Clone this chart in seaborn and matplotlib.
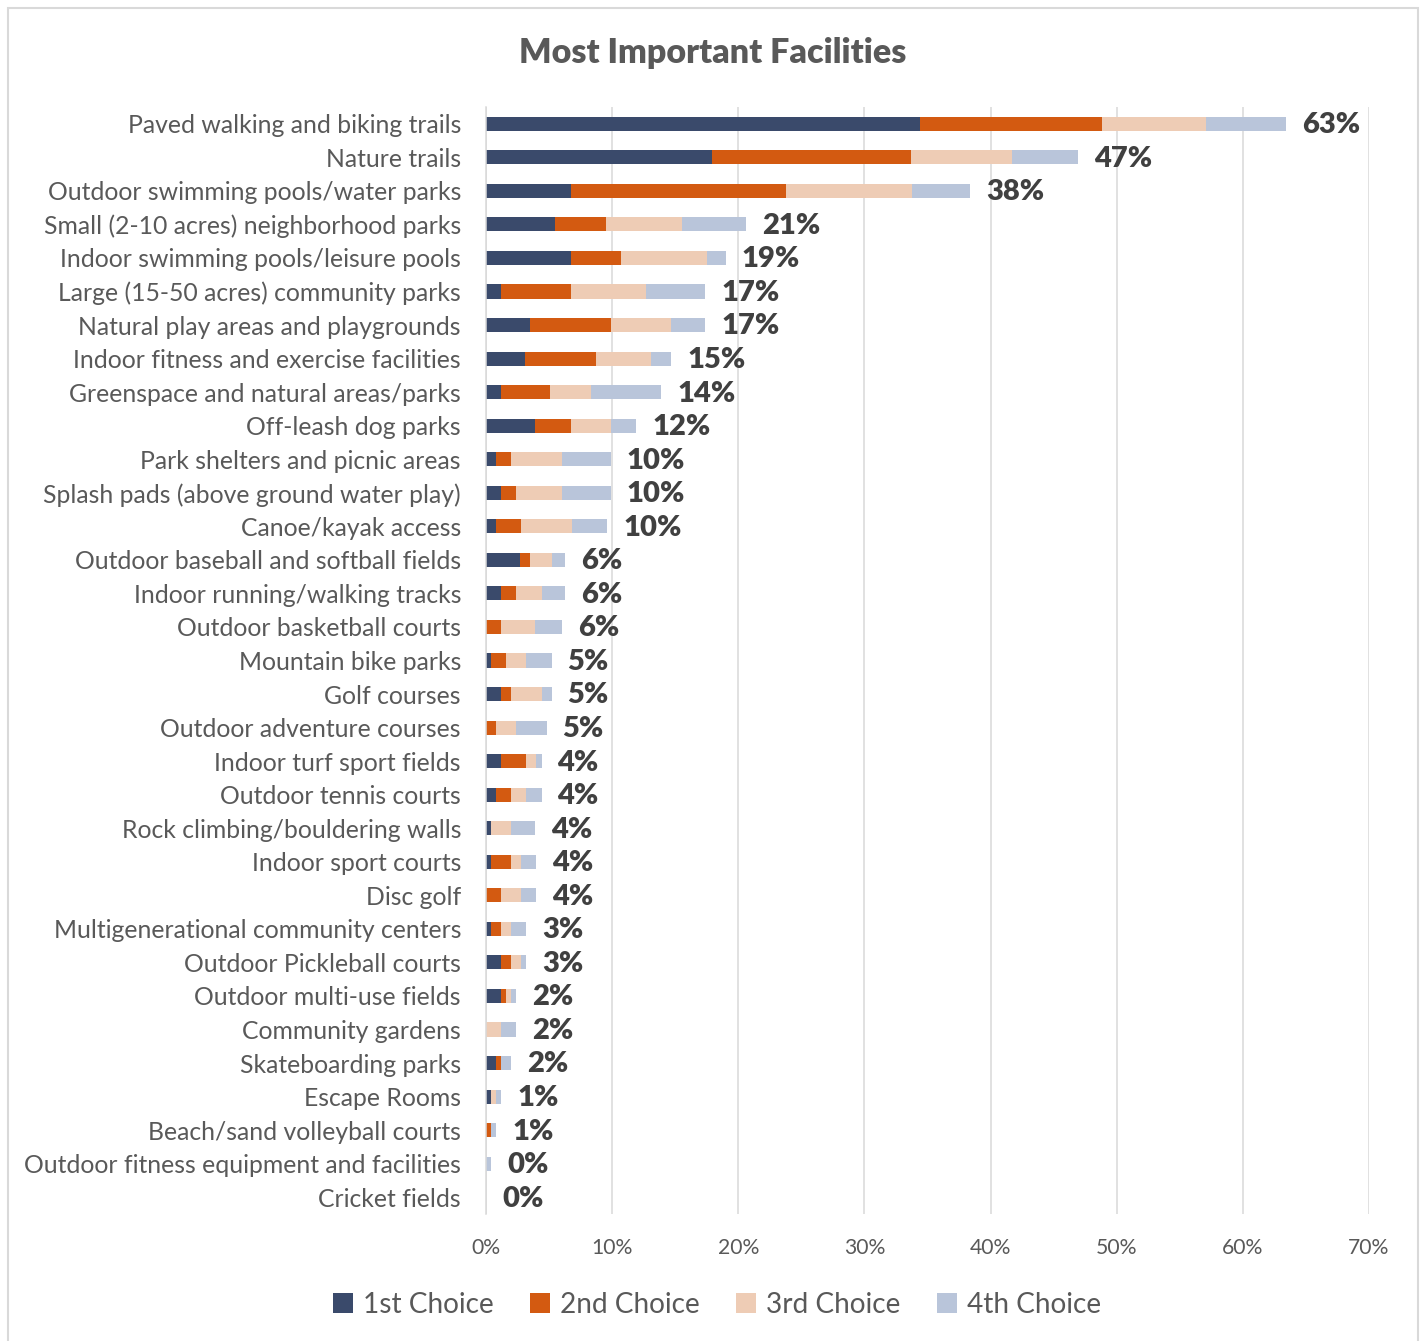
import matplotlib
matplotlib.use("Agg")
import matplotlib.pyplot as plt
from matplotlib.patches import Patch, Rectangle
import numpy as np
import pandas as pd
import seaborn as sns

# Facilities, in ranked order (top to bottom)
facilities = [
    "Paved walking and biking trails",
    "Nature trails",
    "Outdoor swimming pools/water parks",
    "Small (2-10 acres) neighborhood parks",
    "Indoor swimming pools/leisure pools",
    "Large (15-50 acres) community parks",
    "Natural play areas and playgrounds",
    "Indoor fitness and exercise facilities",
    "Greenspace and natural areas/parks",
    "Off-leash dog parks",
    "Park shelters and picnic areas",
    "Splash pads (above ground water play)",
    "Canoe/kayak access",
    "Outdoor baseball and softball fields",
    "Indoor running/walking tracks",
    "Outdoor basketball courts",
    "Mountain bike parks",
    "Golf courses",
    "Outdoor adventure courses",
    "Indoor turf sport fields",
    "Outdoor tennis courts",
    "Rock climbing/bouldering walls",
    "Indoor sport courts",
    "Disc golf",
    "Multigenerational community centers",
    "Outdoor Pickleball courts",
    "Outdoor multi-use fields",
    "Community gardens",
    "Skateboarding parks",
    "Escape Rooms",
    "Beach/sand volleyball courts",
    "Outdoor fitness equipment and facilities",
    "Cricket fields",
]

# Share of respondents (%) choosing each facility as 1st..4th most important
choice_1 = [34.4, 17.9, 6.7, 5.5, 6.7, 1.2, 3.5, 3.1, 1.2, 3.9, 0.8, 1.2, 0.8,
            2.7, 1.2, 0.0, 0.4, 1.2, 0.0, 1.2, 0.8, 0.4, 0.4, 0.0, 0.4, 1.2,
            1.2, 0.0, 0.8, 0.4, 0.0, 0.0, 0.0]
choice_2 = [14.4, 15.8, 17.1, 4.0, 4.0, 5.5, 6.4, 5.6, 3.9, 2.8, 1.2, 1.2, 2.0,
            0.8, 1.2, 1.2, 1.2, 0.8, 0.8, 2.0, 1.2, 0.0, 1.6, 1.2, 0.8, 0.8,
            0.4, 0.0, 0.4, 0.0, 0.4, 0.0, 0.0]
choice_3 = [8.3, 8.0, 10.0, 6.0, 6.8, 6.0, 4.8, 4.4, 3.2, 3.2, 4.0, 3.6, 4.0,
            1.7, 2.0, 2.7, 1.6, 2.4, 1.6, 0.8, 1.2, 1.6, 0.8, 1.6, 0.8, 0.8,
            0.4, 1.2, 0.0, 0.4, 0.0, 0.0, 0.0]
choice_4 = [6.3, 5.2, 4.6, 5.1, 1.5, 4.7, 2.7, 1.6, 5.6, 2.0, 3.9, 3.9, 2.8,
            1.1, 1.9, 2.1, 2.0, 0.8, 2.4, 0.4, 1.2, 1.9, 1.2, 1.2, 1.2, 0.4,
            0.4, 1.2, 0.8, 0.4, 0.4, 0.4, 0.0]

series_names = ["1st Choice", "2nd Choice", "3rd Choice", "4th Choice"]
series_colors = ["#3A4A6B", "#D35A11", "#EECCB5", "#B9C5DA"]
x_ticks = [0, 10, 20, 30, 40, 50, 60, 70]

df = pd.DataFrame({
    "facility": facilities,
    "c1": choice_1, "c2": choice_2, "c3": choice_3, "c4": choice_4,
})
# Running totals so each segment is drawn stacked on the previous ones
df["s1"] = df["c1"]
df["s2"] = df["s1"] + df["c2"]
df["s3"] = df["s2"] + df["c3"]
df["s4"] = df["s3"] + df["c4"]

sns.set_theme(style="white")
plt.rcParams["font.family"] = ["Lato", "DejaVu Sans"]

W, H = 1425, 1341
fig = plt.figure(figsize=(W / 100, H / 100), dpi=100)
ax = fig.add_axes([486 / W, 1 - 1214 / H, (1369 - 486) / W, (1214 - 107) / H])

# Draw the longest (cumulative) bars first, shorter ones on top
for col, color in zip(["s4", "s3", "s2", "s1"], series_colors[::-1]):
    sns.barplot(data=df, x=col, y="facility", orient="h", color=color,
                saturation=1, width=0.42, errorbar=None, linewidth=0, ax=ax)

# Total labels at the end of each bar
for i, total in enumerate(df["s4"]):
    ax.annotate(f"{total:.0f}%", xy=(total, i), xytext=(11.5, -1),
                textcoords="offset points", ha="left", va="center",
                fontsize=21, fontweight="heavy", color="#404040")

ax.set_xlim(0, 70)
ax.set_ylim(32.5, -0.5)
ax.set_xticks(x_ticks)
ax.set_xticklabels([f"{t}%" for t in x_ticks])
ax.set_xlabel("")
ax.set_ylabel("")
ax.grid(axis="x", color="#D9D9D9", linewidth=1.1)
ax.set_axisbelow(True)
for side in ["top", "right", "bottom"]:
    ax.spines[side].set_visible(False)
ax.spines["left"].set_color("#D9D9D9")
ax.spines["left"].set_linewidth(1.1)
ax.tick_params(axis="x", length=0, pad=17, labelsize=15.2, labelcolor="#595959")
ax.tick_params(axis="y", length=0, pad=18, labelsize=17.8, labelcolor="#595959")

fig.text(0.5, 1 - 53 / H, "Most Important Facilities", ha="center", va="center",
         fontsize=24.5, fontweight="heavy", color="#595959")

handles = [Patch(facecolor=c, edgecolor="none", label=n)
           for n, c in zip(series_names, series_colors)]
fig.legend(handles=handles, loc="center", bbox_to_anchor=(0.503, 1 - 1305 / H),
           ncol=4, frameon=False, fontsize=20.2, labelcolor="#595959",
           handlelength=0.72, handleheight=0.72, handletextpad=0.35,
           columnspacing=1.3)

# Outer chart frame
fig.patches.append(Rectangle((7.5 / W, -0.01), (1418 - 7.5) / W, 1 - 8 / H + 0.01,
                             transform=fig.transFigure, fill=False,
                             edgecolor="#D9D9D9", linewidth=1.5))

fig.savefig("out.png", dpi=100, facecolor="white")
